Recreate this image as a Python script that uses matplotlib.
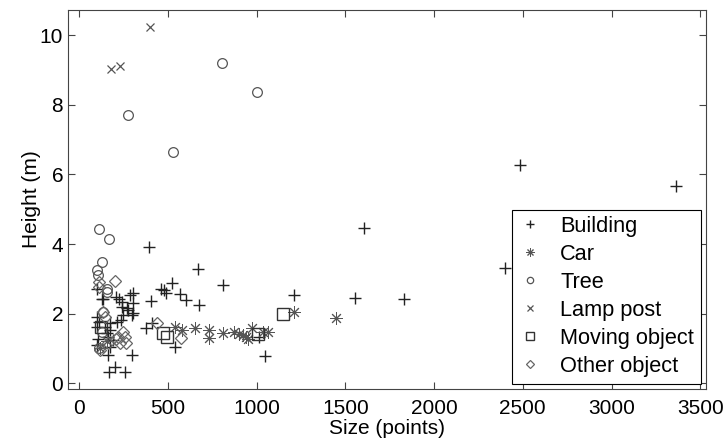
import numpy as np
import matplotlib
matplotlib.use("Agg")
import matplotlib.pyplot as plt

plt.rcParams['font.family'] = ['Liberation Sans', 'DejaVu Sans']

# Building (+)
building_x = [394, 669, 813, 1213, 460, 480, 490, 522, 569, 601, 678, 404, 376, 409, 541, 1048,
              297, 203, 171, 259, 165, 1014,
              103, 128, 227, 245, 240, 269, 287, 302, 306, 306, 297, 250, 212, 175, 103, 110,
              100, 146, 175, 155, 165, 100, 175, 210, 135, 276, 192, 107, 238,
              1555, 1829, 2400, 1606, 2485, 3362]
building_y = [3.92, 3.27, 2.82, 2.53, 2.72, 2.68, 2.58, 2.87, 2.56, 2.39, 2.24, 2.36, 1.57, 1.72, 1.03, 0.79,
              0.81, 0.47, 0.31, 0.31, 0.81, 1.32,
              2.70, 2.42, 2.42, 2.33, 2.20, 2.15, 2.53, 2.58, 2.29, 2.02, 1.96, 1.96, 1.76, 1.72, 1.91, 1.76,
              1.62, 1.62, 1.54, 1.43, 1.33, 1.09, 1.05, 2.48, 2.42, 2.10, 1.24, 1.28, 1.81,
              2.44, 2.41, 3.32, 4.46, 6.27, 5.67]

# Car (*)
car_x = [541, 578, 653, 734, 734, 809, 873, 903, 922, 941, 950, 973, 1038, 1066, 1213, 1448, 118, 160]
car_y = [1.62, 1.53, 1.57, 1.53, 1.30, 1.43, 1.46, 1.40, 1.38, 1.33, 1.27, 1.57, 1.46, 1.46, 2.05, 1.86, 1.0, 1.22]

# Tree (o)
tree_x = [804, 1001, 274, 531, 114, 171, 128, 100, 109, 156, 156, 137, 128, 112]
tree_y = [9.22, 8.37, 7.70, 6.65, 4.43, 4.13, 3.49, 3.25, 3.11, 2.72, 2.63, 2.05, 1.48, 1.0]

# Lamp post (x)
lamp_x = [178, 233, 400]
lamp_y = [9.02, 9.13, 10.24]

# Moving object (square)
moving_x = [1147, 475, 494, 126, 1010]
moving_y = [1.98, 1.45, 1.33, 1.62, 1.42]

# Other object (diamond)
other_x = [114, 205, 146, 250, 231, 263, 221, 438, 573, 118, 165, 135, 210, 257, 113]
other_y = [2.92, 2.94, 1.91, 1.48, 1.14, 1.16, 1.33, 1.72, 1.30, 0.95, 1.14, 2.05, 1.28, 1.33, 2.75]

fig = plt.figure(figsize=(7.27, 4.44), dpi=100)
ax = fig.add_axes([68 / 727, 1 - 389 / 444, (706 - 68) / 727, (389 - 10) / 444])

ax.plot(building_x, building_y, ls='none', marker='+', color='#222222', ms=8, mew=1.0, label='Building')
ax.plot(car_x, car_y, ls='none', marker=(8, 2, 0), color='#555555', ms=9, mew=0.7, label='Car')
ax.plot(tree_x, tree_y, ls='none', marker='o', mfc='none', mec='#555555', ms=7, mew=0.9, label='Tree')
ax.plot(lamp_x, lamp_y, ls='none', marker='x', color='#555555', ms=6, mew=0.9, label='Lamp post')
ax.plot(moving_x, moving_y, ls='none', marker='s', mfc='none', mec='#333333', ms=8, mew=1.0,
        label='Moving object')
ax.plot(other_x, other_y, ls='none', marker='D', mfc='none', mec='#666666', ms=6, mew=0.9,
        label='Other object')

ax.set_xlim(-62, 3532)
ax.set_ylim(-0.17, 10.73)
ax.set_xticks(np.arange(0, 3501, 500))
ax.set_yticks(np.arange(0, 11, 2))
ax.tick_params(direction='in', top=True, right=True, length=5, labelsize=15, color='#444444')
ax.tick_params(axis='x', pad=7)
for s in ax.spines.values():
    s.set_color('#444444')

ax.set_xlabel('Size (points)', fontsize=15, labelpad=1)
ax.set_ylabel('Height (m)', fontsize=15, labelpad=-1)

leg = ax.legend(loc='lower right', fontsize=15.7, numpoints=1, markerscale=0.65,
                handlelength=1.0, handletextpad=0.9, borderaxespad=0.25, labelspacing=0.32,
                fancybox=False, edgecolor='black', framealpha=1, borderpad=0.3)
leg.get_frame().set_linewidth(0.8)

fig.savefig('out.png', dpi=100)
